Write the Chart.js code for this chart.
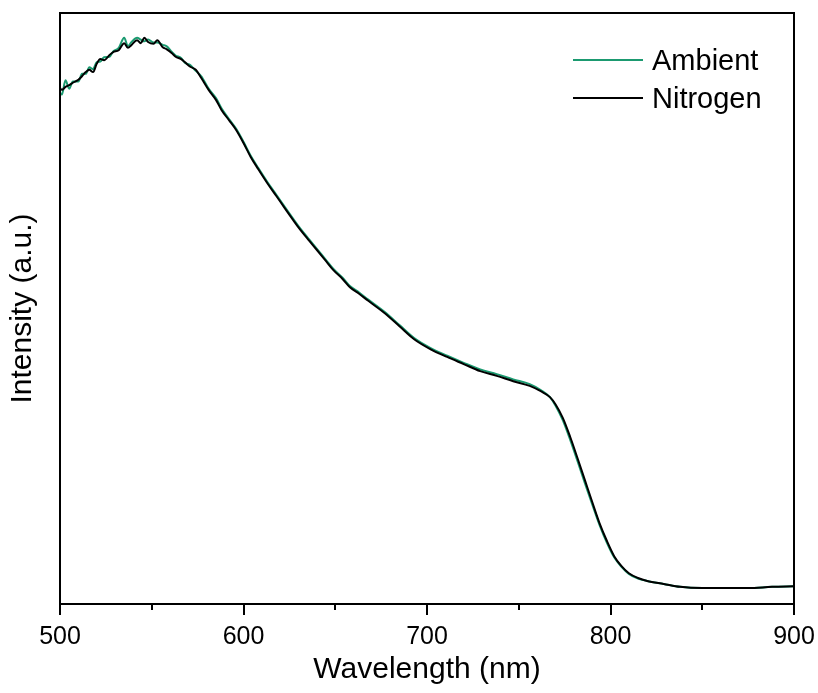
<!DOCTYPE html>
<html>
<head>
<meta charset="utf-8">
<script src="https://cdn.jsdelivr.net/npm/chart.js@4/dist/chart.umd.min.js"></script>
<style>
  body { margin: 0; background: #fff; }
  canvas { display: block; }
</style>
</head>
<body>
<canvas id="spectrum" width="818" height="693"></canvas>
<script>
// wavelength (nm) sample points
const wavelengths = [
  500, 501, 503, 505, 507, 510, 512, 514, 516, 518, 520, 522, 524, 527, 529, 532, 535, 537, 539, 542,
  544, 546, 548, 551, 553, 556, 558, 561, 563, 566, 568, 571, 574, 577, 581, 585, 588, 592, 596, 600,
  604, 608, 613, 618, 622, 627, 631, 636, 640, 645, 649, 654, 658, 663, 668, 677, 685, 693, 702, 711,
  720, 729, 738, 747, 756, 762, 767, 770, 774, 778, 782, 786, 790, 794, 798, 802, 806, 810, 815, 820,
  829, 838, 850, 862, 875, 888, 900
];

// intensity (a.u.)
const nitrogen = [
  873, 870, 875, 878, 882, 887, 893, 900, 904, 900, 914, 922, 920, 929, 934, 937, 949, 941, 946, 954,
  949, 958, 951, 948, 954, 942, 939, 932, 926, 922, 917, 909, 904, 890, 870, 853, 836, 819, 802, 780,
  756, 736, 712, 690, 672, 650, 633, 614, 599, 580, 565, 550, 536, 525, 513, 492, 470, 448, 431, 418,
  406, 394, 386, 377, 369, 360, 350, 338, 315, 283, 247, 210, 173, 137, 107, 81, 64, 52, 44, 39,
  34, 29, 27, 27, 27, 29, 30
];

const ambient = [
  865, 862, 886, 872, 884, 884, 897, 897, 908, 905, 917, 918, 925, 926, 935, 941, 958, 944, 951, 958,
  955, 952, 955, 950, 950, 946, 944, 934, 928, 924, 916, 912, 902, 893, 872, 856, 839, 821, 804, 782,
  758, 738, 714, 692, 674, 652, 635, 616, 601, 582, 567, 552, 538, 527, 515, 494, 472, 450, 433, 420,
  408, 397, 389, 380, 372, 362, 350, 336, 311, 278, 242, 205, 169, 134, 104, 79, 63, 51, 43, 39,
  34, 29, 27, 27, 27, 29, 30
];

const xTicks = [500, 600, 700, 800, 900];
const seriesNames = ['Ambient', 'Nitrogen'];
const seriesColors = ['#1b9a70', '#000000'];

const FONT = "'Liberation Sans', Arial, sans-serif";

// frame box + outward ticks on the bottom axis (major every 100, minor every 50)
const framePlugin = {
  id: 'frame',
  afterDraw(chart) {
    const { ctx, chartArea: a, scales } = chart;
    ctx.save();
    ctx.strokeStyle = '#000';
    ctx.lineWidth = 2;
    ctx.strokeRect(a.left, a.top, a.right - a.left, a.bottom - a.top);
    for (let v = 500; v <= 900; v += 50) {
      const x = Math.round(scales.x.getPixelForValue(v));
      const len = xTicks.includes(v) ? 11 : 6;
      ctx.beginPath();
      ctx.moveTo(x, a.bottom);
      ctx.lineTo(x, a.bottom + len);
      ctx.stroke();
    }
    ctx.restore();
  }
};

// legend sits inside the plot, top right
const insideLegend = {
  id: 'insideLegend',
  afterDraw(chart) {
    const { ctx } = chart;
    ctx.save();
    ctx.font = '29px ' + FONT;
    ctx.textBaseline = 'middle';
    ctx.fillStyle = '#000';
    seriesNames.forEach((name, i) => {
      const y = 60 + i * 38;
      ctx.strokeStyle = seriesColors[i];
      ctx.lineWidth = 2;
      ctx.beginPath();
      ctx.moveTo(573, y);
      ctx.lineTo(643, y);
      ctx.stroke();
      ctx.fillText(name, 652, y + 2);
    });
    ctx.restore();
  }
};

const toPoints = arr => wavelengths.map((x, i) => ({ x, y: arr[i] }));

new Chart(document.getElementById('spectrum').getContext('2d'), {
  type: 'line',
  data: {
    datasets: [
      {
        label: seriesNames[0],
        data: toPoints(ambient),
        borderColor: seriesColors[0],
        borderWidth: 2,
        pointRadius: 0,
        cubicInterpolationMode: 'monotone',
        order: 1
      },
      {
        label: seriesNames[1],
        data: toPoints(nitrogen),
        borderColor: seriesColors[1],
        borderWidth: 2,
        pointRadius: 0,
        cubicInterpolationMode: 'monotone',
        order: 0
      }
    ]
  },
  options: {
    responsive: false,
    animation: false,
    devicePixelRatio: 1,
    layout: { padding: { top: 13, right: 24, left: 0, bottom: 0 } },
    plugins: {
      legend: { display: false },
      tooltip: { enabled: false }
    },
    scales: {
      x: {
        type: 'linear',
        min: 500,
        max: 900,
        afterBuildTicks: s => { s.ticks = xTicks.map(v => ({ value: v })); },
        afterFit: s => {
          s.height = 89;
          // labels at the ends may overhang; don't let them shrink the plot
          s.paddingLeft = 0;
          s.paddingRight = 0;
        },
        grid: { display: false, drawTicks: false },
        border: { display: false },
        ticks: {
          autoSkip: false,
          maxRotation: 0,
          padding: 18,
          color: '#000',
          font: { family: FONT, size: 25 }
        },
        title: {
          display: true,
          text: 'Wavelength (nm)',
          color: '#000',
          font: { family: FONT, size: 30 },
          padding: { top: 0, bottom: 5 }
        }
      },
      y: {
        min: 0,
        max: 1000,
        afterFit: s => { s.width = 60; },
        grid: { display: false, drawTicks: false },
        border: { display: false },
        ticks: { display: false },
        title: {
          display: true,
          text: 'Intensity (a.u.)',
          color: '#000',
          font: { family: FONT, size: 30 },
          padding: { top: 5, bottom: 0 }
        }
      }
    }
  },
  plugins: [framePlugin, insideLegend]
});
</script>
</body>
</html>
